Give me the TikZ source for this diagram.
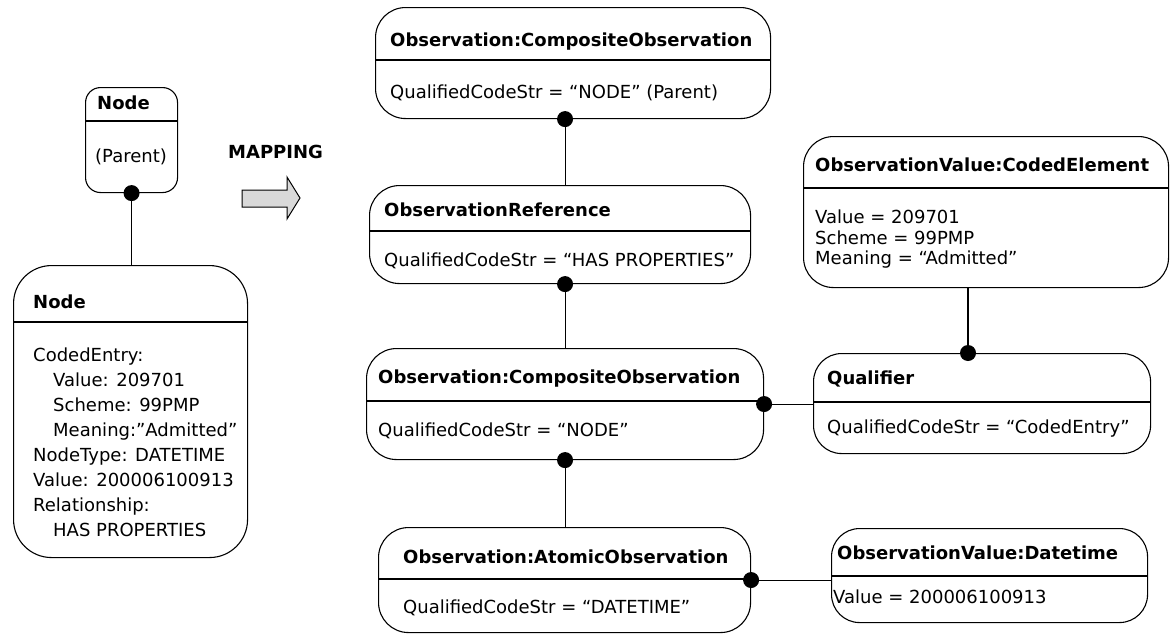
\documentclass[tikz,border=0pt]{standalone}
\usepackage{fontspec}
\setmainfont{DejaVu Sans}
\begin{document}
\begin{tikzpicture}[x=1pt,y=-1pt,
  box/.style={draw, line width=1.1pt, rounded corners=#1, inner sep=0pt, fill=none},
  box/.default=30pt,
  sep/.style={line width=1.1pt},
  conn/.style={line width=1.1pt},
  ttl/.style={anchor=base west, inner sep=0pt, font=\fontsize{18}{22}\selectfont\bfseries},
  txt/.style={anchor=base west, inner sep=0pt, align=left, font=\fontsize{18}{25}\selectfont},
  dot/.style={fill=black}
]
\useasboundingbox (0,0) rectangle (1170,635);

% Boxes
\node[box=15pt, minimum width=92pt, minimum height=105pt, anchor=north west] (A) at (85,87) {};
\node[box=38pt, minimum width=234pt, minimum height=292pt, anchor=north west] (B) at (13,265) {};
\node[box, minimum width=395pt, minimum height=111pt, anchor=north west] (C) at (375,7) {};
\node[box, minimum width=381pt, minimum height=98pt, anchor=north west] (D) at (369,185) {};
\node[box, minimum width=397pt, minimum height=111pt, anchor=north west] (E) at (366,348) {};
\node[box, minimum width=372pt, minimum height=105pt, anchor=north west] (F) at (378,527) {};
\node[box=28pt, minimum width=316pt, minimum height=94pt, anchor=north west] (G) at (831,528) {};
\node[box, minimum width=365pt, minimum height=151pt, anchor=north west] (H) at (803,136) {};
\node[box=28pt, minimum width=337pt, minimum height=100pt, anchor=north west] (I) at (813,353) {};

% Header separators
\draw[sep] (A.west |- 0,121) -- (A.east |- 0,121);
\draw[sep] (B.west |- 0,322) -- (B.east |- 0,322);
\draw[sep] (C.west |- 0,60) -- (C.east |- 0,60);
\draw[sep] (D.west |- 0,231) -- (D.east |- 0,231);
\draw[sep] (E.west |- 0,401) -- (E.east |- 0,401);
\draw[sep] (F.west |- 0,579) -- (F.east |- 0,579);
\draw[sep] (G.west |- 0,576) -- (G.east |- 0,576);
\draw[sep] (H.west |- 0,188) -- (H.east |- 0,188);
\draw[sep] (I.west |- 0,402) -- (I.east |- 0,402);

% Texts
\node[ttl] (At) at (97,109.5) {Node};
\node[txt] (Ab) at (95,162.5) {(Parent)};
\node[ttl] (Bt) at (33,308.5) {Node};
\node[txt] (Bb) at (33,536.5) {CodedEntry:\\
\hspace*{20pt}Value: 209701\\
\hspace*{20pt}Scheme: 99PMP\\
\hspace*{20pt}Meaning:”Admitted”\\
NodeType: DATETIME\\
Value: 200006100913\\
Relationship:\\
\hspace*{20pt}HAS PROPERTIES};
\node[ttl] (Ct) at (390,46.5) {Observation:CompositeObservation};
\node[txt] (Cb) at (390,98.5) {QualifiedCodeStr = “NODE” (Parent)};
\node[ttl] (Dt) at (384,216.5) {ObservationReference};
\node[txt] (Db) at (384,266.5) {QualifiedCodeStr = “HAS PROPERTIES”};
\node[ttl] (Et) at (378,383.5) {Observation:CompositeObservation};
\node[txt] (Eb) at (378,436.5) {QualifiedCodeStr = “NODE”};
\node[ttl] (Ft) at (403,563.5) {Observation:AtomicObservation};
\node[txt] (Fb) at (403,613.5) {QualifiedCodeStr = “DATETIME”};
\node[ttl] (Gt) at (837,559.5) {ObservationValue:Datetime};
\node[txt] (Gb) at (833,603.5) {Value = 200006100913};
\node[ttl] (Ht) at (815,171.5) {ObservationValue:CodedElement};
\node[txt, font=\fontsize{18}{20.5}\selectfont] (Hb) at (815,264.5) {Value = 209701\\Scheme = 99PMP\\Meaning = “Admitted”};
\node[ttl] (It) at (827,384.5) {Qualifier};
\node[txt] (Ib) at (827,433.5) {QualifiedCodeStr = “CodedEntry”};
\node[ttl] (map) at (228,158.5) {MAPPING};

% Mapping arrow
\draw[line width=1pt, fill=gray!30] (242,190) -- (287,190) -- (287,177) -- (300,198) -- (287,219) -- (287,207) -- (242,207) -- cycle;

% Connectors
\coordinate (hx) at (968,0);
\draw[conn] (A.south) -- (A.south |- B.north);
\draw[conn] (C.south -| E.north) -- (D.north -| E.north);
\draw[conn] (D.south -| E.north) -- (E.north);
\draw[conn] (E.south) -- (E.south |- F.north);
\draw[conn] (E.east) -- (E.east -| I.west);
\draw[conn] (F.east) -- (F.east -| G.west);
\draw[conn] (H.south -| hx) -- (I.north -| hx);

% Dots
\fill[dot] (A.south) circle[radius=8pt];
\fill[dot] (C.south -| E.north) circle[radius=8pt];
\fill[dot] (D.south -| E.north) circle[radius=8pt];
\fill[dot] (E.south) circle[radius=8pt];
\fill[dot] (E.east) circle[radius=8pt];
\fill[dot] (F.east) circle[radius=8pt];
\fill[dot] (I.north -| hx) circle[radius=8pt];
\end{tikzpicture}
\end{document}
